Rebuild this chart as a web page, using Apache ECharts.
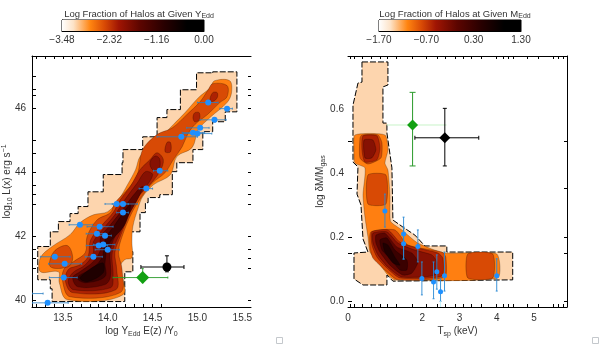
<!DOCTYPE html>
<html>
<head>
<meta charset="utf-8">
<style>
  html, body { margin: 0; padding: 0; background: #fff; }
  #main { width: 600px; height: 344px; }
</style>
<script src="https://cdn.jsdelivr.net/npm/echarts@6/dist/echarts.min.js"></script>
</head>
<body>
<div id="main"></div>
<script>
// contour layers, [x, y] in axis units, lightest first
const leftLevel0 = [[15.17,47.1],[15.44,47.13],[15.44,46.26],[15.31,45.88],[15.17,45.57],[15.06,45.26],[14.95,44.7],[14.77,44.29],[14.72,44.01],[14.58,43.29],[14.45,43.2],[14.42,43.04],[14.36,42.73],[14.25,42.13],[14.28,41.51],[14.28,40.88],[14.19,40.88],[14.19,39.95],[13.38,39.95],[13.36,40.35],[13.22,40.63],[13.22,41.63],[13.36,41.67],[13.45,42.13],[13.58,42.45],[13.67,42.7],[13.78,42.92],[13.78,43.29],[13.95,43.38],[13.95,43.76],[14.16,43.92],[14.17,44.29],[14.39,44.7],[14.55,45.1],[14.66,45.7],[14.81,45.95],[14.99,46.57]];
const leftLevel1 = [[15.19,46.85],[15.36,46.85],[15.38,46.48],[15.33,46.17],[15.14,45.7],[15.01,45.32],[14.94,44.76],[14.77,44.48],[14.7,43.92],[14.51,43.6],[14.39,43.23],[14.34,42.88],[14.28,42.29],[14.27,41.82],[14.27,41.32],[14.19,41.26],[14.14,41.04],[14.17,40.16],[13.55,40.01],[13.46,40.54],[13.45,40.88],[13.25,40.88],[13.25,41.32],[13.38,41.67],[13.58,42.04],[13.69,42.41],[13.84,42.66],[14.0,42.76],[14.12,43.13],[14.22,43.6],[14.31,44.07],[14.36,44.48],[14.51,44.92],[14.62,45.17],[14.73,45.48],[14.86,45.85],[15.01,46.32],[15.14,46.63]];
const leftLevel2 = [[15.17,46.76],[15.33,46.7],[15.33,46.35],[15.25,46.17],[15.11,45.79],[14.97,45.48],[14.89,45.17],[14.83,44.79],[14.73,44.38],[14.64,43.98],[14.5,43.66],[14.38,43.23],[14.27,42.73],[14.16,41.98],[14.12,41.48],[14.16,40.95],[14.14,40.23],[13.58,40.1],[13.5,40.54],[13.51,40.95],[13.62,41.2],[13.75,41.48],[13.77,41.98],[13.88,42.5],[14.03,42.73],[14.08,43.04],[14.22,43.45],[14.33,43.92],[14.39,44.7],[14.55,45.17],[14.72,45.38],[14.88,45.79],[15.03,46.2],[15.12,46.57]];
const leftLevel2Blob = [[13.4,41.51],[13.55,41.7],[13.61,41.32],[13.56,41.04],[13.36,41.04]];
const leftLevel3 = [[14.25,43.54],[14.36,44.07],[14.47,44.38],[14.55,44.6],[14.62,44.38],[14.58,44.01],[14.45,43.54],[14.36,43.29],[14.25,42.73],[14.14,41.98],[14.08,41.48],[14.1,40.95],[14.09,40.32],[13.61,40.23],[13.53,40.57],[13.56,40.95],[13.69,41.1],[13.78,41.35],[13.81,41.88],[13.94,42.35],[14.06,42.73],[14.14,43.13]];
const leftLevel3LobeA = [[15.17,46.48],[15.22,46.48],[15.22,46.32],[15.17,46.2],[15.14,46.26]];
const leftLevel3LobeB = [[14.97,45.85],[15.02,45.85],[15.02,45.63],[14.97,45.57],[14.95,45.7]];
const leftLevel3LobeC = [[14.66,44.92],[14.7,44.92],[14.7,44.63],[14.64,44.63]];
const leftLevel4 = [[14.42,44.01],[14.5,43.92],[14.42,43.51],[14.33,43.2],[14.22,42.6],[14.12,41.98],[14.05,41.48],[14.06,40.73],[14.03,40.38],[13.62,40.32],[13.56,40.57],[13.61,40.85],[13.75,41.1],[13.84,41.48],[13.84,41.82],[13.97,42.29],[14.08,42.66],[14.19,43.13],[14.33,43.66]];
const leftLevel4Lobe = [[14.53,44.5],[14.58,44.4],[14.57,44.07],[14.5,44.07],[14.47,44.3]];
const leftLevel5 = [[14.34,43.45],[14.39,43.54],[14.33,43.13],[14.23,42.66],[14.12,42.2],[14.03,41.57],[14.03,40.73],[13.97,40.48],[13.67,40.41],[13.61,40.7],[13.69,40.88],[13.84,41.2],[13.92,41.57],[13.92,41.95],[14.03,42.35],[14.14,42.73],[14.23,43.07]];
const leftLevel6 = [[14.25,42.98],[14.19,42.35],[14.01,41.73],[13.97,41.16],[13.97,40.73],[13.75,40.54],[13.66,40.7],[13.84,41.01],[13.94,41.35],[13.97,41.88],[14.08,42.35]];
const leftLevel7 = [[13.69,40.7],[13.94,41.16],[13.95,40.85],[13.77,40.57]];

const rightLevel0 = [[0.376,0.748],[1.074,0.748],[1.074,0.676],[0.94,0.67],[0.94,0.557],[1.047,0.557],[1.047,0.526],[1.181,0.417],[1.208,0.254],[1.477,0.232],[1.799,0.207],[2.067,0.173],[2.658,0.173],[2.658,0.154],[4.43,0.154],[4.43,0.067],[1.208,0.063],[1.047,0.082],[1.047,0.051],[0.403,0.051],[0.161,0.07],[0.161,0.151],[0.537,0.154],[0.403,0.195],[0.349,0.301],[0.242,0.335],[0.268,0.42],[0.134,0.435],[0.134,0.613],[0.268,0.682],[0.376,0.685]];
const rightLevel1 = [[0.188,0.52],[0.993,0.52],[1.074,0.473],[0.993,0.432],[1.074,0.41],[1.128,0.332],[1.128,0.27],[1.154,0.248],[1.45,0.223],[1.879,0.182],[2.604,0.151],[4.0,0.148],[4.027,0.073],[1.262,0.067],[1.074,0.082],[0.805,0.123],[0.591,0.154],[0.537,0.201],[0.456,0.263],[0.403,0.332],[0.456,0.417],[0.188,0.432],[0.161,0.473]];
const rightLevel2Top = [[0.376,0.52],[0.805,0.52],[0.913,0.495],[0.886,0.448],[0.537,0.429],[0.322,0.448],[0.322,0.51]];
const rightLevel2Block = [[0.537,0.395],[1.02,0.395],[1.02,0.304],[0.537,0.304]];
const rightLevel2Side = [[3.221,0.148],[3.893,0.148],[3.893,0.073],[3.221,0.073]];
const rightLevel2 = [[0.617,0.217],[1.262,0.223],[1.611,0.176],[2.523,0.154],[2.631,0.138],[2.604,0.076],[1.342,0.067],[0.993,0.098],[0.671,0.135],[0.591,0.17]];
const rightLevel3 = [[0.644,0.217],[1.074,0.223],[1.396,0.185],[1.852,0.167],[2.416,0.151],[2.55,0.135],[2.523,0.079],[1.396,0.073],[1.047,0.104],[0.779,0.138],[0.644,0.176]];
const rightLevel3Top = [[0.403,0.517],[0.779,0.517],[0.859,0.479],[0.779,0.442],[0.456,0.435],[0.376,0.473]];
const rightLevel4 = [[0.671,0.213],[1.047,0.217],[1.342,0.182],[1.799,0.16],[2.255,0.145],[2.389,0.123],[2.336,0.082],[1.45,0.076],[1.074,0.107],[0.805,0.145],[0.671,0.182]];
const rightLevel4Top = [[0.43,0.504],[0.67,0.504],[0.75,0.473],[0.64,0.448],[0.456,0.448]];
const rightLevel5 = [[0.752,0.207],[0.993,0.213],[1.315,0.17],[1.718,0.151],[1.879,0.123],[1.718,0.088],[1.477,0.082],[1.128,0.113],[0.859,0.154],[0.752,0.182]];
const rightLevel6 = [[0.859,0.192],[1.047,0.198],[1.262,0.16],[1.584,0.129],[1.584,0.098],[1.396,0.098],[1.128,0.135],[0.913,0.16]];
const rightLevel7 = [[0.94,0.182],[1.074,0.176],[1.262,0.138],[1.396,0.113],[1.208,0.12],[0.993,0.154]];

// clusters: x, y, xLo, xHi
const leftPoints = [[15.12,46.17,15.0,15.23],[15.33,45.98,15.25,15.39],[15.19,45.63,15.03,15.32],[15.03,45.38,14.88,15.13],[15.0,45.2,14.84,15.16],[14.95,45.23,14.83,15.08],[14.82,45.1,14.55,15.0],[14.58,44.04,14.51,14.67],[14.43,43.48,14.35,14.5],[14.1,43.0,13.97,14.23],[14.17,43.0,14.05,14.33],[14.17,42.73,14.1,14.23],[13.69,42.35,13.57,13.83],[13.91,42.29,13.77,14.06],[13.88,42.07,13.76,13.97],[13.97,42.01,13.88,14.04],[13.95,41.73,13.84,14.08],[13.9,41.7,13.76,14.0],[14.0,41.57,13.86,14.13],[13.84,41.35,13.75,13.94],[13.41,41.35,13.25,13.58],[13.52,41.13,13.34,13.71],[13.51,40.7,13.35,13.66],[13.33,39.91,13.16,13.56]];
const leftLimitBar = [[13.16,40.2,13.16,13.28]];
// clusters: x, y, yLo, yHi
const rightPoints = [[0.993,0.282,0.232,0.335],[1.495,0.21,0.132,0.263],[1.495,0.18,0.132,0.232],[1.879,0.171,0.123,0.223],[1.987,0.071,0.02,0.123],[2.301,0.06,0.008,0.123],[2.389,0.092,0.038,0.145],[2.489,0.03,0.0,0.07],[2.596,0.08,0.032,0.154],[4.0,0.08,0.032,0.133]];
const rightPaleBar = [[2.489,0.03,-0.018,0.0]];

// stacks: x, y, xLo, xHi, yLo, yHi
const leftBlack = [[14.66,41.03,14.37,14.85,40.88,41.38]];
const leftGreen = [[14.39,40.7,14.06,14.67,40.54,40.98]];
const rightBlack = [[2.604,0.511,1.799,3.517,0.423,0.603]];
const rightGreen = [[1.737,0.551,1.039,2.65,0.423,0.653]];

// ticks and labels
const leftXLabels = [13.5, 14.0, 14.5, 15.0, 15.5];
const leftXTicks = [13.2,13.3,13.4,13.5,13.6,13.7,13.8,13.9,14.0,14.1,14.2,14.3,14.4,14.5,14.6];
const leftYLabels = [40, 42, 44, 46];
const leftYTicks = [47,46.6,46.4,46,45,44.6,44,43.6,43.3,43,42,41.6,41.3,41,40];
const rightXLabels = [0, 2, 3, 4, 5];
const rightXTicks = [0.054,0.17,0.385,0.617,0.859,1.056,1.306,1.736,2.094,2.398,2.613,2.872,3.096,3.32,3.589,4,4.17,4.3,4.44,4.82,5.11,5.51,5.65,5.78];
const rightYLabels = [0, 0.2, 0.4, 0.6];
const rightYTicks = [0, 0.15, 0.2, 0.352, 0.5];
const leftBarLabels = [-3.48, -2.32, -1.16, 0];
const rightBarLabels = [-1.7, -0.7, 0.3, 1.3];

const levelColors = ['#fdd5ae', '#ff7f11', '#d84a05', '#ad2203', '#861103', '#5c0500', '#3a0100', '#1f0000'];
const FONT = 'Liberation Sans';
const TEXT = '#333';

const chart = echarts.init(document.getElementById('main'));

// layer = [points, colour index]
function contourSeries(layers, axisIndex, stair, smooth) {
  return {
    type: 'custom',
    xAxisIndex: axisIndex,
    yAxisIndex: axisIndex,
    coordinateSystem: 'cartesian2d',
    clip: true,
    silent: true,
    z: 2,
    data: layers.map((l, i) => [i]),
    renderItem(params, api) {
      const layer = layers[params.dataIndex];
      let pts = layer[0];
      if (stair && layer[1] === 0) {
        // the outermost contour is blocky in the original
        pts = [];
        layer[0].forEach((p, i, all) => {
          pts.push(p);
          const next = all[(i + 1) % all.length];
          pts.push([p[0], next[1]]);
        });
      }
      const outer = layer[1] === 0;
      return {
        type: 'polygon',
        shape: { points: pts.map(p => api.coord(p)), smooth: outer ? 0 : smooth },
        style: {
          fill: levelColors[layer[1]],
          stroke: outer ? '#000' : 'rgba(0,0,0,0.4)',
          lineWidth: outer ? 1 : 0.6,
          lineDash: outer ? [6, 2] : null
        }
      };
    }
  };
}

// bars = x/y pair plus lo, hi along `dir`
function errorSeries(bars, axisIndex, dir, loIdx, color, cap, opacity) {
  return {
    type: 'custom',
    xAxisIndex: axisIndex,
    yAxisIndex: axisIndex,
    coordinateSystem: 'cartesian2d',
    clip: true,
    silent: true,
    z: 3,
    data: bars,
    renderItem(params, api) {
      const x = api.value(0), y = api.value(1);
      const lo = api.value(loIdx), hi = api.value(loIdx + 1);
      const a = api.coord(dir === 'x' ? [lo, y] : [x, lo]);
      const b = api.coord(dir === 'x' ? [hi, y] : [x, hi]);
      const style = { stroke: color, lineWidth: 1, opacity: opacity };
      const line = (x1, y1, x2, y2) => ({ type: 'line', shape: { x1, y1, x2, y2 }, style });
      const parts = [line(a[0], a[1], b[0], b[1])];
      [a, b].forEach(p => {
        if (dir === 'x') parts.push(line(p[0], p[1] - cap, p[0], p[1] + cap));
        else parts.push(line(p[0] - cap, p[1], p[0] + cap, p[1]));
      });
      return { type: 'group', children: parts };
    }
  };
}

function scatterSeries(points, axisIndex, symbol, size, color) {
  return {
    type: 'scatter',
    xAxisIndex: axisIndex,
    yAxisIndex: axisIndex,
    symbol: symbol,
    symbolSize: size,
    silent: true,
    z: 4,
    itemStyle: { color: color, opacity: 1 },
    data: points.map(p => [p[0], p[1]])
  };
}

function colorBarSeries(axisIndex) {
  return {
    type: 'custom',
    xAxisIndex: axisIndex,
    yAxisIndex: axisIndex,
    coordinateSystem: 'cartesian2d',
    silent: true,
    data: [[0]],
    renderItem(params) {
      const rect = params.coordSys;
      return {
        type: 'rect',
        shape: { x: rect.x, y: rect.y, width: rect.width, height: rect.height },
        style: {
          fill: new echarts.graphic.LinearGradient(0, 0, 1, 0, [
            { offset: 0, color: '#ffffff' },
            { offset: 0.08, color: '#fde3c8' },
            { offset: 0.2, color: '#ff8410' },
            { offset: 0.3, color: '#d84a05' },
            { offset: 0.4, color: '#a01503' },
            { offset: 0.55, color: '#5c0500' },
            { offset: 0.72, color: '#280000' },
            { offset: 0.88, color: '#000000' },
            { offset: 1, color: '#000000' }
          ])
        }
      };
    }
  };
}

const line = { show: true, onZero: false, lineStyle: { color: '#000', width: 1 } };
const noLine = { show: false };
const labelStyle = { fontFamily: FONT, fontSize: 10, color: TEXT };
const nameRich = {
  s: { fontFamily: FONT, fontSize: 7, color: TEXT, verticalAlign: 'bottom', padding: [6, 0, 0, 0] },
  u: { fontFamily: FONT, fontSize: 7, color: TEXT, verticalAlign: 'top', padding: [0, 0, 5, 0] }
};

function xAxisBottom(gridIndex, min, max, labels, ticks, name) {
  return {
    type: 'value', gridIndex, min, max, position: 'bottom', scale: true,
    splitLine: { show: false },
    axisLine: line,
    axisTick: { show: true, inside: true, length: 3, customValues: ticks, lineStyle: { color: '#000' } },
    axisLabel: {
      ...labelStyle, margin: 6, customValues: labels,
      showMinLabel: true, showMaxLabel: true,
      formatter: v => (gridIndex === 0 ? v.toFixed(1) : String(v))
    },
    name, nameLocation: 'middle', nameGap: 18, nameMoveOverlap: false,
    nameTextStyle: { ...labelStyle, rich: nameRich }
  };
}
function xAxisTop(gridIndex, min, max, ticks) {
  return {
    type: 'value', gridIndex, min, max, position: 'top', scale: true,
    splitLine: { show: false },
    axisLine: line,
    axisTick: { show: true, inside: true, length: 3, customValues: ticks, lineStyle: { color: '#000' } },
    axisLabel: { show: false }
  };
}
function yAxisLeft(gridIndex, min, max, labels, ticks, name, hasLine, digits) {
  return {
    type: 'value', gridIndex, min, max, position: 'left', scale: true,
    splitLine: { show: false },
    axisLine: hasLine ? line : noLine,
    axisTick: { show: true, inside: true, length: 4, customValues: ticks, lineStyle: { color: '#000' } },
    axisLabel: {
      ...labelStyle, margin: hasLine ? 6 : 4, customValues: labels,
      showMinLabel: true, showMaxLabel: true,
      formatter: v => v.toFixed(digits)
    },
    name, nameLocation: 'middle', nameGap: hasLine ? 18 : 21, nameRotate: 90, nameMoveOverlap: false,
    nameTextStyle: { ...labelStyle, rich: nameRich }
  };
}
function yAxisRight(gridIndex, min, max, ticks, hasLine) {
  return {
    type: 'value', gridIndex, min, max, position: 'right', scale: true,
    splitLine: { show: false },
    axisLine: hasLine ? line : noLine,
    axisTick: { show: true, inside: true, length: 3, customValues: ticks, lineStyle: { color: '#000' } },
    axisLabel: { show: false }
  };
}
function barXAxis(gridIndex, labels) {
  return {
    type: 'value', gridIndex,
    min: labels[0], max: labels[labels.length - 1], position: 'bottom', scale: true,
    splitLine: { show: false },
    axisLine: line,
    axisTick: { show: false },
    axisLabel: {
      ...labelStyle, margin: 4, customValues: labels,
      showMinLabel: true, showMaxLabel: true,
      formatter: v => v.toFixed(2).replace('-', '\u2212')
    }
  };
}
function barYAxis(gridIndex) {
  return {
    type: 'value', gridIndex, min: 0, max: 1,
    splitLine: { show: false }, axisLine: line,
    axisTick: { show: false }, axisLabel: { show: false }
  };
}

function titleItem(text, sub, center) {
  return {
    text: '{t|' + text + '}{s|' + sub + '}',
    left: center, top: 3, textAlign: 'center',
    textStyle: {
      fontWeight: 'normal',
      rich: {
        t: { fontFamily: FONT, fontSize: 9.5, fontWeight: 'normal', color: TEXT },
        s: { fontFamily: FONT, fontSize: 7, fontWeight: 'normal', color: TEXT, verticalAlign: 'bottom', padding: [5, 0, 0, 0] }
      }
    }
  };
}

const option = {
  backgroundColor: '#fff',
  animation: false,
  title: [
    titleItem('Log Fraction of Halos at Given Y', 'Edd', 134),
    titleItem('Log Fraction of Halos at Given M', 'Edd', 450)
  ],
  grid: [
    { left: 32, top: 56, width: 219, height: 251, outerBoundsMode: 'none' },
    { left: 348, top: 56, width: 219, height: 251, outerBoundsMode: 'none' },
    { left: 62, top: 20, width: 142, height: 11, show: true, borderColor: '#000', borderWidth: 1, outerBoundsMode: 'none' },
    { left: 379, top: 20, width: 142, height: 11, show: true, borderColor: '#000', borderWidth: 1, outerBoundsMode: 'none' }
  ],
  // index 0-3 drive the data, 4-7 only add the opposite frame sides
  xAxis: [
    xAxisBottom(0, 13.156, 15.597, leftXLabels, leftXTicks, 'log Y{s|Edd} E(z) /Y{s|0}'),
    xAxisBottom(1, 0, 5.89, rightXLabels, rightXTicks, 'T{s|sp} (keV)'),
    barXAxis(2, leftBarLabels),
    barXAxis(3, rightBarLabels),
    xAxisTop(0, 13.156, 15.597, leftXTicks),
    xAxisTop(1, 0, 5.89, rightXTicks)
  ],
  yAxis: [
    yAxisLeft(0, 39.78, 47.625, leftYLabels, leftYTicks, 'log{s|10} L(x) erg s{u|\u22121}', true, 0),
    yAxisLeft(1, -0.0178, 0.7666, rightYLabels, rightYTicks, 'log \u03b4M/M{s|gas}', false, 1),
    barYAxis(2),
    barYAxis(3),
    yAxisRight(0, 39.78, 47.625, leftYTicks, false),
    yAxisRight(1, -0.0178, 0.7666, rightYTicks, true)
  ],
  series: [
    contourSeries([
      [leftLevel0, 0], [leftLevel1, 1], [leftLevel2, 2], [leftLevel2Blob, 2], [leftLevel3, 3],
      [leftLevel3LobeA, 3], [leftLevel3LobeB, 3], [leftLevel3LobeC, 3], [leftLevel4, 4],
      [leftLevel4Lobe, 4], [leftLevel5, 5], [leftLevel6, 6], [leftLevel7, 7]
    ], 0, true, 0.35),
    contourSeries([
      [rightLevel0, 0], [rightLevel1, 1], [rightLevel2Top, 2], [rightLevel2Block, 2], [rightLevel2Side, 2],
      [rightLevel2, 2], [rightLevel3, 3], [rightLevel3Top, 3], [rightLevel4, 4], [rightLevel4Top, 4],
      [rightLevel5, 5], [rightLevel6, 6], [rightLevel7, 7]
    ], 1, false, 0.2),

    errorSeries(leftPoints, 0, 'x', 2, '#2a7fc4', 1, 0.8),
    errorSeries(leftLimitBar, 0, 'x', 2, '#2a7fc4', 1, 0.8),
    scatterSeries(leftPoints, 0, 'circle', 6, '#1e90ff'),
    errorSeries(rightPoints, 1, 'y', 2, '#2a8ad4', 1, 0.9),
    errorSeries(rightPaleBar, 1, 'y', 2, '#c4f2fb', 0, 1),
    scatterSeries(rightPoints, 1, 'circle', 5, '#1e90ff'),

    errorSeries(leftGreen, 0, 'x', 2, '#2a9a2a', 1, 0.9),
    errorSeries(leftGreen, 0, 'y', 4, '#2a9a2a', 1, 0.9),
    errorSeries(leftBlack, 0, 'x', 2, '#000', 2, 1),
    errorSeries(leftBlack, 0, 'y', 4, '#000', 2, 1),
    scatterSeries(leftGreen, 0, 'diamond', 13, '#12a012'),
    scatterSeries(leftBlack, 0, 'circle', 9, '#000'),

    errorSeries(rightGreen, 1, 'x', 2, '#c8f3c8', 0, 1),
    errorSeries(rightGreen, 1, 'y', 4, '#2a9a2a', 3, 1),
    errorSeries(rightBlack, 1, 'x', 2, '#000', 2, 1),
    errorSeries(rightBlack, 1, 'y', 4, '#000', 2, 1),
    scatterSeries(rightGreen, 1, 'diamond', 11, '#12a012'),
    scatterSeries(rightBlack, 1, 'diamond', 11, '#000'),

    colorBarSeries(2),
    colorBarSeries(3)
  ],
  graphic: [
    { type: 'rect', left: 276, top: 337, shape: { width: 6, height: 6 }, style: { fill: '#fff', stroke: '#c4c8cc', lineWidth: 1 } },
    { type: 'rect', left: 592, top: 337, shape: { width: 6, height: 6 }, style: { fill: '#fff', stroke: '#c4c8cc', lineWidth: 1 } }
  ]
};

chart.setOption(option);
</script>
</body>
</html>
